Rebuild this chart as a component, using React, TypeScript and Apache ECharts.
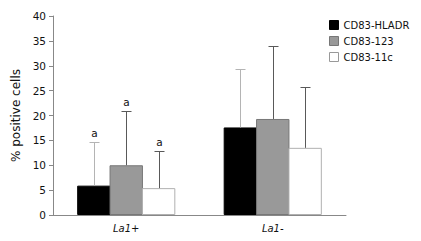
import React, { useEffect, useRef } from "react";
import * as echarts from "echarts";

const categories = ["La1+", "La1-"];
const seriesNames = ["CD83-HLADR", "CD83-123", "CD83-11c"];
const hladrMeans = [5.9, 17.6];
const hladrErrTop = [14.6, 29.4];
const cd123Means = [10.0, 19.3];
const cd123ErrTop = [21.0, 34.0];
const cd11cMeans = [5.4, 13.5];
const cd11cErrTop = [12.9, 25.8];
const sigLabels = [["a", ""], ["a", ""], ["a", ""]];
const yTicks = { min: 0, max: 40, interval: 5 };

const FONT = "DejaVu Sans";
const GAP = 0.33;
const BAR_GAP = -0.03;

export default function App() {
  const ref = useRef<HTMLDivElement>(null);
  useEffect(() => {
    if (!ref.current) return;
    const chart = echarts.init(ref.current, undefined, { renderer: "svg" });
    const means = [hladrMeans, cd123Means, cd11cMeans];
    const errs = [hladrErrTop, cd123ErrTop, cd11cErrTop];
    const fills = ["#000000", "#999999", "#ffffff"];
    const borders = ["#000000", "#777777", "#b0b0b0"];
    const errColors = ["#b4b4b4", "#595959", "#595959"];

    const barSeries = seriesNames.map((name, i) => ({
      name,
      type: "bar",
      data: means[i],
      barGap: `${BAR_GAP * 100}%`,
      barCategoryGap: `${GAP * 100}%`,
      itemStyle: { color: fills[i], borderColor: borders[i], borderWidth: 1 },
      z: 2,
    }));

    const errSeries = seriesNames.map((name, i) => ({
      name: name + "-err",
      type: "custom",
      z: 3,
      data: categories.map((_, c) => [c, means[i][c], errs[i][c], i]),
      renderItem: (params: any, api: any) => {
        const c = api.value(0);
        const m = api.value(1);
        const hi = api.value(2);
        const idx = api.value(3);
        const base = api.coord([c, m]);
        const top = api.coord([c, hi]);
        const band = api.size([1, 0])[0];
        const usable = band * (1 - GAP);
        const barW = usable / (3 + 2 * BAR_GAP);
        const step = barW * (1 + BAR_GAP);
        const cx = Math.round(base[0] + (idx - 1) * step) + 0.5;
        const ty = Math.round(top[1]) + 0.5;
        const by = base[1];
        const style = { stroke: errColors[idx], lineWidth: 1 };
        const children: any[] = [
          { type: "line", shape: { x1: cx, y1: by, x2: cx, y2: ty }, style },
          { type: "line", shape: { x1: cx - 5, y1: ty, x2: cx + 5, y2: ty }, style },
        ];
        const lab = sigLabels[idx][c];
        if (lab) {
          children.push({
            type: "text",
            style: {
              text: lab,
              x: cx,
              y: ty - 4,
              align: "center",
              verticalAlign: "bottom",
              fill: "#111",
              font: `10.5px "${FONT}"`,
            },
          });
        }
        return { type: "group", children };
      },
    }));

    chart.setOption({
      animation: false,
      grid: { left: 53, right: 75, top: 16, bottom: 26, containLabel: false },
      legend: {
        data: seriesNames.map((n, i) => ({
          name: n,
          icon: "rect",
          itemStyle: { color: fills[i], borderColor: i === 0 ? "#000" : i === 1 ? "#777" : "#999", borderWidth: 1 },
        })),
        orient: "vertical",
        left: 324,
        top: 15,
        itemWidth: 9,
        itemHeight: 9,
        itemGap: 6,
        textStyle: { fontFamily: FONT, fontSize: 10, color: "#111" },
      },
      xAxis: {
        type: "category",
        data: categories,
        axisLine: { lineStyle: { color: "#888" } },
        axisTick: { inside: true, length: 4, lineStyle: { color: "#888" } },
        axisLabel: { fontFamily: FONT, fontSize: 10, fontStyle: "italic", color: "#111", margin: 8 },
      },
      yAxis: {
        type: "value",
        min: yTicks.min,
        max: yTicks.max,
        interval: yTicks.interval,
        name: "% positive cells",
        nameLocation: "middle",
        nameGap: 30,
        nameTextStyle: { fontFamily: FONT, fontSize: 12, color: "#111" },
        axisLine: { show: true, lineStyle: { color: "#888" } },
        axisTick: { show: true, length: 4, lineStyle: { color: "#888" } },
        splitLine: { show: false },
        axisLabel: { fontFamily: FONT, fontSize: 10.5, color: "#111", margin: 7 },
      },
      series: [...barSeries, ...errSeries],
    });
    return () => chart.dispose();
  }, []);
  return <div ref={ref} style={{ width: 421, height: 241, position: "absolute", left: 0, top: 0 }} />;
}
